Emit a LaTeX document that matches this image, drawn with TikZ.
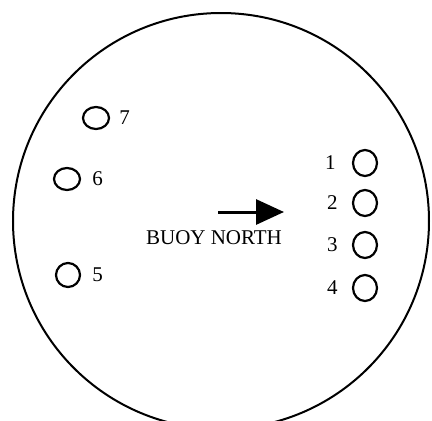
\documentclass[tikz,border=0pt]{standalone}
\usepackage{fontspec}
\setmainfont{Liberation Serif}
\usetikzlibrary{arrows.meta, positioning, shapes.geometric}
\tikzset{
  boya/.style={draw, ellipse, line width=2.2pt, minimum width=26pt, minimum height=22pt, inner sep=0pt},
  boyad/.style={boya, minimum width=24pt, minimum height=26pt},
  num/.style={font=\fontsize{21}{21}\selectfont, inner sep=0pt},
  flecha/.style={-{Triangle[length=28pt, width=25pt]}, line width=3pt},
}

\begin{document}
\begin{tikzpicture}[x=1pt, y=-1pt]
  \useasboundingbox (0,0) rectangle (432,421);
  \clip (0,0) rectangle (432,421);
  \draw[line width=2pt] (221,221) circle[radius=208];
  % boyas de la izquierda
  \node[boya] (b7) at (96,118) {};
  \node[boya] (b6) at (67,179) {};
  \node[boya, minimum width=24pt, minimum height=24pt] (b5) at (68,275) {};
  \node[num, right=9pt of b7] (n7) {7};
  \node[num, right=11pt of b6] (n6) {6};
  \node[num, right=11pt of b5] (n5) {5};
  % boyas de la derecha
  \node[boyad] (b1) at (365,163) {};
  \node[boyad] (b2) at (365,203) {};
  \node[boyad] (b3) at (365,245) {};
  \node[boyad] (b4) at (365,288) {};
  \node[num, left=16pt of b1] (n1) {1};
  \node[num, left=14pt of b2] (n2) {2};
  \node[num, left=14pt of b3] (n3) {3};
  \node[num, left=14pt of b4] (n4) {4};
  % flecha y rotulo
  \coordinate (ini) at (218,212);
  \coordinate (fin) at (284,212);
  \draw[flecha] (ini) -- (fin);
  \node[num] (rotulo) at (214,238) {BUOY NORTH};
\end{tikzpicture}
\end{document}
